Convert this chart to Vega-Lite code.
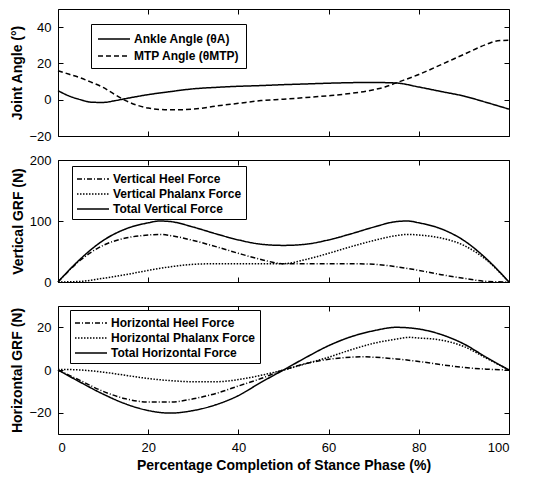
{
  "$schema": "https://vega.github.io/schema/vega-lite/v6.json",
  "padding": {"left": 10, "top": 8, "right": 0, "bottom": 5},
  "spacing": 24,
  "bounds": "flush",
  "background": "white",
  "resolve": {"scale": {"strokeDash": "independent", "x": "independent", "y": "independent"}, "legend": {"strokeDash": "independent"}},
  "config": {
    "view": {"stroke": "black", "strokeWidth": 1},
    "font": "Liberation Sans",
    "axis": {
      "grid": false,
      "domain": false,
      "tickColor": "black",
      "tickSize": -5,
      "tickWidth": 1,
      "labelPadding": 12,
      "labelFont": "Liberation Sans",
      "labelFontSize": 13,
      "labelColor": "black",
      "titleFont": "Liberation Sans",
      "titleFontSize": 14,
      "titleFontWeight": "bold",
      "titleColor": "black"
    },
    "legend": {
      "orient": "none",
      "title": null,
      "symbolType": "M-2,0H2",
      "symbolSize": 256,
      "symbolStrokeWidth": 1.5,
      "symbolStrokeColor": "black",
      "symbolFillColor": "transparent",
      "symbolOffset": 8,
      "labelOffset": 11,
      "labelFont": "Liberation Sans",
      "labelFontSize": 12,
      "labelFontWeight": "bold",
      "labelColor": "black",
      "labelLimit": 400,
      "strokeColor": "black",
      "fillColor": "white",
      "padding": 4,
      "rowPadding": 0,
      "cornerRadius": 0
    }
  },
  "datasets": {
    "angle": [
      {"x": 0, "y": 5, "s": "Ankle Angle (θA)"},
      {"x": 2.5, "y": 2, "s": "Ankle Angle (θA)"},
      {"x": 5, "y": 0, "s": "Ankle Angle (θA)"},
      {"x": 7.5, "y": -1.4, "s": "Ankle Angle (θA)"},
      {"x": 10, "y": -1.5, "s": "Ankle Angle (θA)"},
      {"x": 12.5, "y": -0.6, "s": "Ankle Angle (θA)"},
      {"x": 15, "y": 0.6, "s": "Ankle Angle (θA)"},
      {"x": 20, "y": 2.8, "s": "Ankle Angle (θA)"},
      {"x": 25, "y": 4.5, "s": "Ankle Angle (θA)"},
      {"x": 30, "y": 6, "s": "Ankle Angle (θA)"},
      {"x": 35, "y": 6.8, "s": "Ankle Angle (θA)"},
      {"x": 40, "y": 7.4, "s": "Ankle Angle (θA)"},
      {"x": 45, "y": 7.8, "s": "Ankle Angle (θA)"},
      {"x": 50, "y": 8.3, "s": "Ankle Angle (θA)"},
      {"x": 55, "y": 8.7, "s": "Ankle Angle (θA)"},
      {"x": 60, "y": 9.1, "s": "Ankle Angle (θA)"},
      {"x": 65, "y": 9.4, "s": "Ankle Angle (θA)"},
      {"x": 70, "y": 9.5, "s": "Ankle Angle (θA)"},
      {"x": 75, "y": 9.2, "s": "Ankle Angle (θA)"},
      {"x": 80, "y": 7, "s": "Ankle Angle (θA)"},
      {"x": 85, "y": 4.5, "s": "Ankle Angle (θA)"},
      {"x": 90, "y": 2, "s": "Ankle Angle (θA)"},
      {"x": 95, "y": -1.5, "s": "Ankle Angle (θA)"},
      {"x": 100, "y": -5.2, "s": "Ankle Angle (θA)"},
      {"x": 0, "y": 16, "s": "MTP Angle (θMTP)"},
      {"x": 2.5, "y": 14, "s": "MTP Angle (θMTP)"},
      {"x": 5, "y": 12, "s": "MTP Angle (θMTP)"},
      {"x": 7.5, "y": 9.5, "s": "MTP Angle (θMTP)"},
      {"x": 10, "y": 6.8, "s": "MTP Angle (θMTP)"},
      {"x": 12.5, "y": 3, "s": "MTP Angle (θMTP)"},
      {"x": 15, "y": -0.5, "s": "MTP Angle (θMTP)"},
      {"x": 17.5, "y": -3, "s": "MTP Angle (θMTP)"},
      {"x": 20, "y": -4.6, "s": "MTP Angle (θMTP)"},
      {"x": 25, "y": -5.6, "s": "MTP Angle (θMTP)"},
      {"x": 30, "y": -5.2, "s": "MTP Angle (θMTP)"},
      {"x": 35, "y": -3.5, "s": "MTP Angle (θMTP)"},
      {"x": 40, "y": -2, "s": "MTP Angle (θMTP)"},
      {"x": 45, "y": -0.5, "s": "MTP Angle (θMTP)"},
      {"x": 50, "y": 0.3, "s": "MTP Angle (θMTP)"},
      {"x": 55, "y": 1.2, "s": "MTP Angle (θMTP)"},
      {"x": 60, "y": 2.2, "s": "MTP Angle (θMTP)"},
      {"x": 65, "y": 3.5, "s": "MTP Angle (θMTP)"},
      {"x": 70, "y": 5.5, "s": "MTP Angle (θMTP)"},
      {"x": 72.5, "y": 7, "s": "MTP Angle (θMTP)"},
      {"x": 75, "y": 9.3, "s": "MTP Angle (θMTP)"},
      {"x": 80, "y": 13.9, "s": "MTP Angle (θMTP)"},
      {"x": 85, "y": 19.4, "s": "MTP Angle (θMTP)"},
      {"x": 90, "y": 25, "s": "MTP Angle (θMTP)"},
      {"x": 95, "y": 30.5, "s": "MTP Angle (θMTP)"},
      {"x": 97.5, "y": 32.5, "s": "MTP Angle (θMTP)"},
      {"x": 100, "y": 32.8, "s": "MTP Angle (θMTP)"}
    ],
    "vert": [
      {"x": 0, "y": 0, "s": "Vertical Heel Force"},
      {"x": 5, "y": 36, "s": "Vertical Heel Force"},
      {"x": 10, "y": 60, "s": "Vertical Heel Force"},
      {"x": 15, "y": 72, "s": "Vertical Heel Force"},
      {"x": 20, "y": 77, "s": "Vertical Heel Force"},
      {"x": 22.5, "y": 78, "s": "Vertical Heel Force"},
      {"x": 25, "y": 76, "s": "Vertical Heel Force"},
      {"x": 30, "y": 68, "s": "Vertical Heel Force"},
      {"x": 35, "y": 58, "s": "Vertical Heel Force"},
      {"x": 40, "y": 47, "s": "Vertical Heel Force"},
      {"x": 45, "y": 37, "s": "Vertical Heel Force"},
      {"x": 50, "y": 30, "s": "Vertical Heel Force"},
      {"x": 55, "y": 30, "s": "Vertical Heel Force"},
      {"x": 60, "y": 30, "s": "Vertical Heel Force"},
      {"x": 65, "y": 30, "s": "Vertical Heel Force"},
      {"x": 70, "y": 29, "s": "Vertical Heel Force"},
      {"x": 75, "y": 25, "s": "Vertical Heel Force"},
      {"x": 80, "y": 19, "s": "Vertical Heel Force"},
      {"x": 85, "y": 12, "s": "Vertical Heel Force"},
      {"x": 90, "y": 6, "s": "Vertical Heel Force"},
      {"x": 95, "y": 1, "s": "Vertical Heel Force"},
      {"x": 100, "y": 0, "s": "Vertical Heel Force"},
      {"x": 0, "y": 0, "s": "Vertical Phalanx Force"},
      {"x": 5, "y": 1, "s": "Vertical Phalanx Force"},
      {"x": 10, "y": 6, "s": "Vertical Phalanx Force"},
      {"x": 15, "y": 12, "s": "Vertical Phalanx Force"},
      {"x": 20, "y": 19, "s": "Vertical Phalanx Force"},
      {"x": 25, "y": 25, "s": "Vertical Phalanx Force"},
      {"x": 30, "y": 29, "s": "Vertical Phalanx Force"},
      {"x": 35, "y": 30, "s": "Vertical Phalanx Force"},
      {"x": 40, "y": 30, "s": "Vertical Phalanx Force"},
      {"x": 45, "y": 30, "s": "Vertical Phalanx Force"},
      {"x": 50, "y": 30, "s": "Vertical Phalanx Force"},
      {"x": 55, "y": 37, "s": "Vertical Phalanx Force"},
      {"x": 60, "y": 47, "s": "Vertical Phalanx Force"},
      {"x": 65, "y": 58, "s": "Vertical Phalanx Force"},
      {"x": 70, "y": 68, "s": "Vertical Phalanx Force"},
      {"x": 75, "y": 76, "s": "Vertical Phalanx Force"},
      {"x": 77.5, "y": 78, "s": "Vertical Phalanx Force"},
      {"x": 80, "y": 77, "s": "Vertical Phalanx Force"},
      {"x": 85, "y": 72, "s": "Vertical Phalanx Force"},
      {"x": 90, "y": 60, "s": "Vertical Phalanx Force"},
      {"x": 95, "y": 36, "s": "Vertical Phalanx Force"},
      {"x": 100, "y": 0, "s": "Vertical Phalanx Force"},
      {"x": 0, "y": 0, "s": "Total Vertical Force"},
      {"x": 5, "y": 38, "s": "Total Vertical Force"},
      {"x": 10, "y": 68, "s": "Total Vertical Force"},
      {"x": 15, "y": 87, "s": "Total Vertical Force"},
      {"x": 20, "y": 97, "s": "Total Vertical Force"},
      {"x": 22.5, "y": 100, "s": "Total Vertical Force"},
      {"x": 25, "y": 99, "s": "Total Vertical Force"},
      {"x": 30, "y": 90, "s": "Total Vertical Force"},
      {"x": 35, "y": 79, "s": "Total Vertical Force"},
      {"x": 40, "y": 69, "s": "Total Vertical Force"},
      {"x": 45, "y": 62, "s": "Total Vertical Force"},
      {"x": 50, "y": 60, "s": "Total Vertical Force"},
      {"x": 55, "y": 62, "s": "Total Vertical Force"},
      {"x": 60, "y": 69, "s": "Total Vertical Force"},
      {"x": 65, "y": 79, "s": "Total Vertical Force"},
      {"x": 70, "y": 90, "s": "Total Vertical Force"},
      {"x": 75, "y": 99, "s": "Total Vertical Force"},
      {"x": 77.5, "y": 100, "s": "Total Vertical Force"},
      {"x": 80, "y": 97, "s": "Total Vertical Force"},
      {"x": 85, "y": 87, "s": "Total Vertical Force"},
      {"x": 90, "y": 68, "s": "Total Vertical Force"},
      {"x": 95, "y": 38, "s": "Total Vertical Force"},
      {"x": 100, "y": 0, "s": "Total Vertical Force"}
    ],
    "horiz": [
      {"x": 0, "y": 0, "s": "Horizontal Heel Force"},
      {"x": 5, "y": -5, "s": "Horizontal Heel Force"},
      {"x": 10, "y": -10, "s": "Horizontal Heel Force"},
      {"x": 15, "y": -13.5, "s": "Horizontal Heel Force"},
      {"x": 20, "y": -15, "s": "Horizontal Heel Force"},
      {"x": 25, "y": -15, "s": "Horizontal Heel Force"},
      {"x": 30, "y": -13.5, "s": "Horizontal Heel Force"},
      {"x": 35, "y": -11, "s": "Horizontal Heel Force"},
      {"x": 40, "y": -7.5, "s": "Horizontal Heel Force"},
      {"x": 45, "y": -4, "s": "Horizontal Heel Force"},
      {"x": 50, "y": 0, "s": "Horizontal Heel Force"},
      {"x": 55, "y": 3, "s": "Horizontal Heel Force"},
      {"x": 60, "y": 5, "s": "Horizontal Heel Force"},
      {"x": 65, "y": 6, "s": "Horizontal Heel Force"},
      {"x": 68, "y": 6.2, "s": "Horizontal Heel Force"},
      {"x": 70, "y": 6, "s": "Horizontal Heel Force"},
      {"x": 75, "y": 5.2, "s": "Horizontal Heel Force"},
      {"x": 80, "y": 4, "s": "Horizontal Heel Force"},
      {"x": 85, "y": 2.5, "s": "Horizontal Heel Force"},
      {"x": 90, "y": 1.2, "s": "Horizontal Heel Force"},
      {"x": 95, "y": 0.4, "s": "Horizontal Heel Force"},
      {"x": 100, "y": 0, "s": "Horizontal Heel Force"},
      {"x": 0, "y": 0.3, "s": "Horizontal Phalanx Force"},
      {"x": 5, "y": 0, "s": "Horizontal Phalanx Force"},
      {"x": 10, "y": -1, "s": "Horizontal Phalanx Force"},
      {"x": 15, "y": -2.5, "s": "Horizontal Phalanx Force"},
      {"x": 20, "y": -4, "s": "Horizontal Phalanx Force"},
      {"x": 25, "y": -5, "s": "Horizontal Phalanx Force"},
      {"x": 30, "y": -5.5, "s": "Horizontal Phalanx Force"},
      {"x": 35, "y": -5.5, "s": "Horizontal Phalanx Force"},
      {"x": 40, "y": -4.5, "s": "Horizontal Phalanx Force"},
      {"x": 45, "y": -2.5, "s": "Horizontal Phalanx Force"},
      {"x": 50, "y": 0, "s": "Horizontal Phalanx Force"},
      {"x": 55, "y": 3, "s": "Horizontal Phalanx Force"},
      {"x": 60, "y": 6, "s": "Horizontal Phalanx Force"},
      {"x": 65, "y": 9.5, "s": "Horizontal Phalanx Force"},
      {"x": 70, "y": 12.5, "s": "Horizontal Phalanx Force"},
      {"x": 75, "y": 14.5, "s": "Horizontal Phalanx Force"},
      {"x": 78, "y": 15.3, "s": "Horizontal Phalanx Force"},
      {"x": 80, "y": 15, "s": "Horizontal Phalanx Force"},
      {"x": 85, "y": 14, "s": "Horizontal Phalanx Force"},
      {"x": 90, "y": 11, "s": "Horizontal Phalanx Force"},
      {"x": 95, "y": 5.5, "s": "Horizontal Phalanx Force"},
      {"x": 100, "y": 0, "s": "Horizontal Phalanx Force"},
      {"x": 0, "y": 0, "s": "Total Horizontal Force"},
      {"x": 5, "y": -5.8, "s": "Total Horizontal Force"},
      {"x": 10, "y": -11.3, "s": "Total Horizontal Force"},
      {"x": 15, "y": -15.9, "s": "Total Horizontal Force"},
      {"x": 20, "y": -19, "s": "Total Horizontal Force"},
      {"x": 25, "y": -20.2, "s": "Total Horizontal Force"},
      {"x": 30, "y": -19, "s": "Total Horizontal Force"},
      {"x": 35, "y": -16.3, "s": "Total Horizontal Force"},
      {"x": 40, "y": -12, "s": "Total Horizontal Force"},
      {"x": 45, "y": -5.8, "s": "Total Horizontal Force"},
      {"x": 50, "y": 0, "s": "Total Horizontal Force"},
      {"x": 55, "y": 5.9, "s": "Total Horizontal Force"},
      {"x": 60, "y": 11.4, "s": "Total Horizontal Force"},
      {"x": 65, "y": 15.6, "s": "Total Horizontal Force"},
      {"x": 70, "y": 18.4, "s": "Total Horizontal Force"},
      {"x": 75, "y": 20, "s": "Total Horizontal Force"},
      {"x": 80, "y": 19.2, "s": "Total Horizontal Force"},
      {"x": 85, "y": 16.6, "s": "Total Horizontal Force"},
      {"x": 90, "y": 12.2, "s": "Total Horizontal Force"},
      {"x": 95, "y": 5.9, "s": "Total Horizontal Force"},
      {"x": 100, "y": 0, "s": "Total Horizontal Force"}
    ]
  },
  "vconcat": [
    {
      "width": 451,
      "height": 127,
      "data": {"name": "angle"},
      "layer": [
        {
          "mark": {"type": "line", "color": "black", "strokeWidth": 1.5, "interpolate": "monotone"},
          "encoding": {
            "x": {"field": "x", "type": "quantitative", "scale": {"domain": [0, 100], "nice": false}, "axis": {"values": [0, 20, 40, 60, 80, 100], "labels": false, "title": null}},
            "y": {"field": "y", "type": "quantitative", "scale": {"domain": [-20, 50], "nice": false, "zero": false}, "axis": {"values": [-20, 0, 20, 40], "title": "Joint Angle (°)"}},
            "strokeDash": {"field": "s", "type": "nominal", "scale": {"domain": ["Ankle Angle (θA)", "MTP Angle (θMTP)"], "range": [[1, 0], [5, 3]]}, "legend": {"legendX": 33, "legendY": 15, "padding": 6, "rowPadding": 2}}
          }
        },
        {
          "mark": {"type": "line", "strokeOpacity": 0},
          "encoding": {
            "x": {"field": "x", "type": "quantitative", "axis": {"orient": "top", "values": [0, 20, 40, 60, 80, 100], "labels": false, "title": null}},
            "y": {"field": "y", "type": "quantitative", "axis": {"orient": "right", "values": [-20, 0, 20, 40], "labels": false, "title": null}},
            "detail": {"field": "s"}
          }
        }
      ],
      "resolve": {"axis": {"x": "independent", "y": "independent"}}
    },
    {
      "width": 451,
      "height": 122,
      "data": {"name": "vert"},
      "layer": [
        {
          "mark": {"type": "line", "color": "black", "strokeWidth": 1.5, "interpolate": "monotone"},
          "encoding": {
            "x": {"field": "x", "type": "quantitative", "scale": {"domain": [0, 100], "nice": false}, "axis": {"values": [0, 20, 40, 60, 80, 100], "labels": false, "title": null}},
            "y": {"field": "y", "type": "quantitative", "scale": {"domain": [0, 200], "nice": false}, "axis": {"values": [0, 100, 200], "title": "Vertical GRF (N)"}},
            "strokeDash": {"field": "s", "type": "nominal", "scale": {"domain": ["Vertical Heel Force", "Vertical Phalanx Force", "Total Vertical Force"], "range": [[5, 2, 1, 2], [1.5, 1.5], [1, 0]]}, "legend": {"legendX": 14, "legendY": 6}}
          }
        },
        {
          "mark": {"type": "line", "strokeOpacity": 0},
          "encoding": {
            "x": {"field": "x", "type": "quantitative", "axis": {"orient": "top", "values": [0, 20, 40, 60, 80, 100], "labels": false, "title": null}},
            "y": {"field": "y", "type": "quantitative", "axis": {"orient": "right", "values": [0, 100, 200], "labels": false, "title": null}},
            "detail": {"field": "s"}
          }
        }
      ],
      "resolve": {"axis": {"x": "independent", "y": "independent"}}
    },
    {
      "width": 451,
      "height": 128,
      "data": {"name": "horiz"},
      "layer": [
        {
          "mark": {"type": "line", "color": "black", "strokeWidth": 1.5, "interpolate": "monotone"},
          "encoding": {
            "x": {"field": "x", "type": "quantitative", "scale": {"domain": [0, 100], "nice": false}, "axis": {"values": [0, 20, 40, 60, 80, 100], "title": "Percentage Completion of Stance Phase (%)"}},
            "y": {"field": "y", "type": "quantitative", "scale": {"domain": [-30, 30], "nice": false}, "axis": {"values": [-20, 0, 20], "title": "Horizontal GRF (N)"}},
            "strokeDash": {"field": "s", "type": "nominal", "scale": {"domain": ["Horizontal Heel Force", "Horizontal Phalanx Force", "Total Horizontal Force"], "range": [[5, 2, 1, 2], [1.5, 1.5], [1, 0]]}, "legend": {"legendX": 12, "legendY": 4}}
          }
        },
        {
          "mark": {"type": "line", "strokeOpacity": 0},
          "encoding": {
            "x": {"field": "x", "type": "quantitative", "axis": {"orient": "top", "values": [0, 20, 40, 60, 80, 100], "labels": false, "title": null}},
            "y": {"field": "y", "type": "quantitative", "axis": {"orient": "right", "values": [-20, 0, 20], "labels": false, "title": null}},
            "detail": {"field": "s"}
          }
        }
      ],
      "resolve": {"axis": {"x": "independent", "y": "independent"}}
    }
  ]
}
